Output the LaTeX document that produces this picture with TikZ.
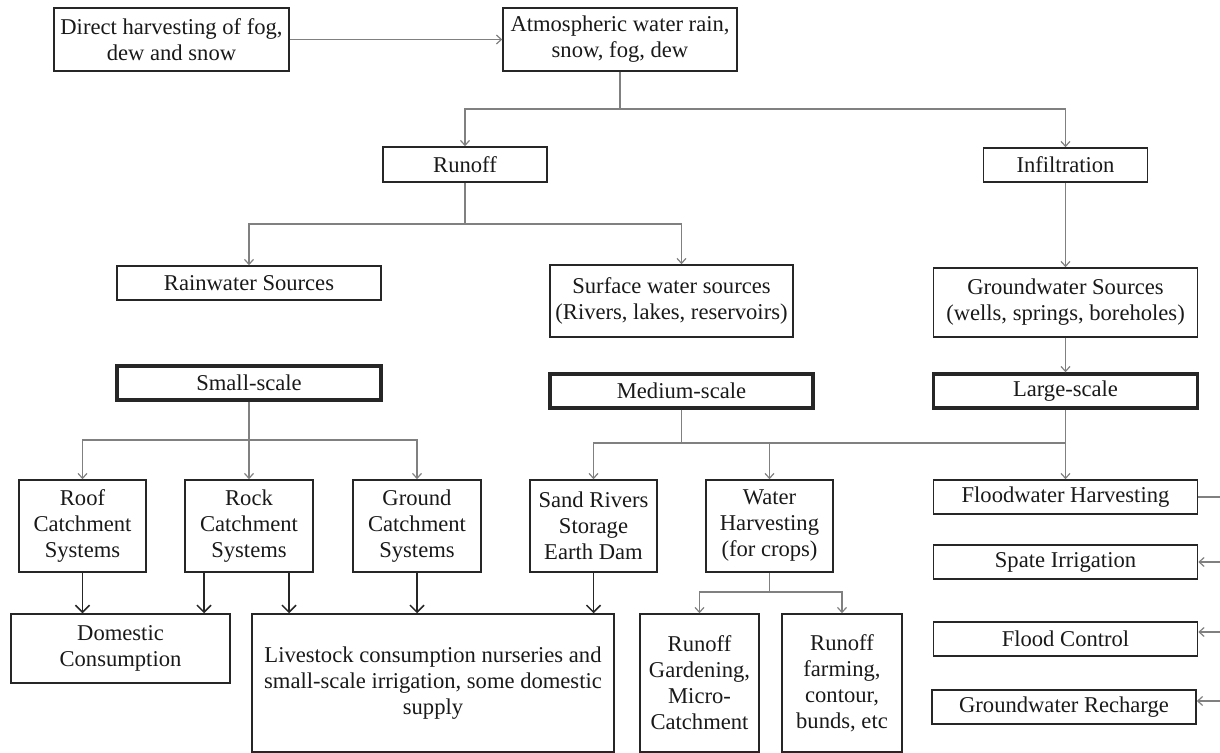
\documentclass[tikz,border=0pt]{standalone}
\usepackage{fontspec}
\setmainfont{Liberation Serif}
\usetikzlibrary{arrows.meta}
\tikzstyle{box}=[draw=black!85, line width=0.75pt, align=center, inner sep=0pt, text=black!90, font=\fontsize{11.3}{13}\selectfont]
\tikzstyle{tier}=[box, line width=1.7pt]
\tikzstyle{link}=[draw=black!50, line width=0.6pt]
\tikzstyle{feed}=[-{Straight Barb[length=3.5pt,width=7pt]}, black!85, line width=0.75pt]

\begin{document}
\begin{tikzpicture}[x=0.5pt, y=-0.5pt, >={Straight Barb[length=2.5pt,width=4.5pt]}]
    \useasboundingbox (0,0) rectangle (1220,753);
    % sources
    \node[box, minimum width=117.5pt, minimum height=31.5pt] (11) at (171.5,39.5) {Direct harvesting of fog,\\dew and snow};
    \node[box, minimum width=117pt, minimum height=31.5pt] (12) at (620,39.5) {Atmospheric water rain,\\snow, fog, dew};
    \node[box, minimum width=82pt, minimum height=17.5pt] (21) at (465,164.5) {Runoff};
    \node[box, minimum width=82pt, minimum height=17pt] (22) at (1065.5,165) {Infiltration};
    \node[box, minimum width=132pt, minimum height=17pt] (31) at (249,283) {Rainwater Sources};
    \node[box, minimum width=121.5pt, minimum height=36pt] (32) at (671.5,301) {Surface water sources\\(Rivers, lakes, reservoirs)};
    \node[box, minimum width=132pt, minimum height=34.5pt] (33) at (1065.5,302.5) {Groundwater Sources\\(wells, springs, boreholes)};
    % scales
    \node[tier, minimum width=132pt, minimum height=17pt] (41) at (249,383) {Small-scale};
    \node[tier, minimum width=131.5pt, minimum height=17pt] (42) at (681.5,391) {Medium-scale};
    \node[tier, minimum width=132pt, minimum height=17pt] (43) at (1065.5,391) {Large-scale};
    % systems
    \node[box, minimum width=63.5pt, minimum height=46pt] (51) at (82.5,526) {Roof\\Catchment\\Systems};
    \node[box, minimum width=64pt, minimum height=46pt] (52) at (249,526) {Rock\\Catchment\\Systems};
    \node[box, minimum width=64pt, minimum height=46pt] (53) at (417,526) {Ground\\Catchment\\Systems};
    \node[box, minimum width=63.5pt, minimum height=46pt] (54) at (593.5,526) {Sand Rivers\\Storage\\Earth Dam};
    \node[box, minimum width=63.5pt, minimum height=46pt] (55) at (769.5,526) {Water\\Harvesting\\(for crops)};
    \node[box, minimum width=132pt, minimum height=17pt] (56) at (1065.5,497) {Floodwater Harvesting};
    \node[box, minimum width=132pt, minimum height=17pt] (66) at (1065.5,562) {Spate Irrigation};
    \node[box, minimum width=132pt, minimum height=17pt] (76) at (1065.5,639) {Flood Control};
    \node[box, minimum width=132pt, minimum height=17pt] (86) at (1064,707) {Groundwater Recharge};
    % uses
    \node[box, minimum width=109.5pt, minimum height=34.5pt] (61) at (120.5,648.5) {Domestic\\Consumption};
    \node[box, minimum width=181pt, minimum height=69pt] (62) at (433,683) {Livestock consumption nurseries and\\small-scale irrigation, some domestic\\supply};
    \node[box, minimum width=59.5pt, minimum height=69pt] (63) at (699.5,683) {Runoff\\Gardening,\\Micro-\\Catchment};
    \node[box, minimum width=60pt, minimum height=69pt] (64) at (842,683) {Runoff\\farming,\\contour,\\bunds, etc};

    \draw[link,->] (11) -- (12);
    \coordinate (a1) at (620,109);
    \draw[link] (12) -- (a1);
    \draw[link,->] (a1) -| (21);
    \draw[link,->] (a1) -| (22);
    \coordinate (a2) at (465,224);
    \draw[link] (21) -- (a2);
    \draw[link,->] (a2) -| (31);
    \draw[link,->] (a2) -| (32.north -| 42.north);
    \draw[link,->] (22) -- (33);
    \draw[link,->] (33) -- (43);

    \coordinate (a3) at (249,440);
    \draw[link] (41) -- (a3);
    \draw[link,->] (a3) -| (51);
    \draw[link,->] (a3) -- (52);
    \draw[link,->] (a3) -| (53);
    \coordinate (a4) at (681.5,443);
    \draw[link] (42) -- (a4);
    \draw[link,->] (a4) -| (54);
    \draw[link,->] (a4) -| (55);
    \draw[link] (a4) -- (56 |- a4);
    \draw[link,->] (43) -- (56);
    \coordinate (a5) at (769.5,592);
    \draw[link] (55) -- (a5);
    \draw[link,->] (a5) -| (63);
    \draw[link,->] (a5) -| (64);

    % into the uses
    \coordinate (b1) at ([xshift=-22.5pt]52.south);
    \coordinate (b2) at ([xshift=20pt]52.south);
    \draw[feed] (51.south) -- (51.south |- 61.north);
    \draw[feed] (b1) -- (b1 |- 61.north);
    \draw[feed] (b2) -- (b2 |- 62.north);
    \draw[feed] (53.south) -- (53.south |- 62.north);
    \draw[feed] (54.south) -- (54.south |- 62.north);

    % right rim
    \coordinate (rim) at (1220,0);
    \coordinate (c1) at (1220,632);
    \coordinate (c2) at (1220,701);
    \draw[link] (56) -- (56 -| rim);
    \draw[link,->] (rim |- 66) -- (66);
    \draw[link,->] (c1) -- (c1 -| 76.east);
    \draw[link,->] (c2) -- (c2 -| 86.east);
\end{tikzpicture}
\end{document}
